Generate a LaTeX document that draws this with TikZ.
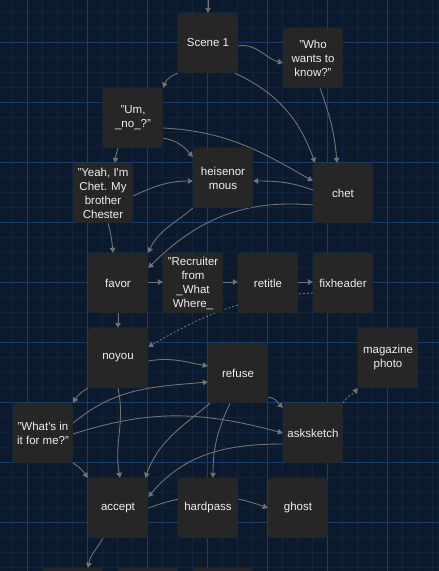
\documentclass[tikz,border=0pt]{standalone}
\usepackage{fontspec}
\setmainfont{Liberation Sans}
\usepackage{tikz}
\usetikzlibrary{arrows.meta}
\usetikzlibrary{calc}
\usepackage{xcolor}

\definecolor{bgblue}{HTML}{0B1A2D}
\definecolor{gridminor}{HTML}{11243D}
\definecolor{gridmajor}{HTML}{1B3B68}
\definecolor{boxgray}{HTML}{262626}
\definecolor{linkgray}{HTML}{727272}
\definecolor{textwhite}{HTML}{EFEFEF}

\pgfdeclarelayer{grid}
\pgfdeclarelayer{links}
\pgfsetlayers{grid,links,main}

\begin{document}
\begin{tikzpicture}[x=1pt, y=1pt,
    passage/.style={rectangle, rounded corners=3pt, fill=boxgray, minimum width=60pt, minimum height=60pt, inner sep=0pt, align=center, text=textwhite, font=\fontsize{11.5}{14}\selectfont},
    link/.style={draw=linkgray, line width=0.9pt, -{Triangle[length=5pt,width=5.5pt]}},
    dotlink/.style={link, dash pattern=on 2pt off 2pt}]
    \useasboundingbox (0,0) rectangle (439,-571);

    % Background grid
    \begin{pgfonlayer}{grid}
    \fill[bgblue] (0,0) rectangle (439,-571);
    \foreach \gx in {12,27,...,432} \draw[gridminor, line width=0.8pt] (\gx,0) -- (\gx,-571);
    \foreach \gy in {12,27,...,567} \draw[gridminor, line width=0.8pt] (0,-\gy) -- (439,-\gy);
    \foreach \gx in {27,87,...,387} \draw[gridmajor, line width=1pt] (\gx,0) -- (\gx,-571);
    \foreach \gy in {42,102,...,522} \draw[gridmajor, line width=1pt] (0,-\gy) -- (439,-\gy);
    \end{pgfonlayer}

    % Passages
    \node[passage] (scene) at (208,-43) {Scene 1};
    \node[passage] (who) at (313,-58) {"Who\\wants to\\know?"};
    \node[passage] (um) at (133,-118) {"Um,\\\_no\_?"};
    \node[passage] (yeah) at (103,-193) {"Yeah, I\textquotesingle m\\Chet. My\\brother\\Chester};
    \node[passage] (heis) at (223,-178) {heisenor\\mous};
    \node[passage] (chet) at (343,-193) {chet};

    \node[passage] (favor) at (118,-283) {favor};
    \node[passage] (recruiter) at (193,-283) {"Recruiter\\from\\\_What\\Where\_};
    \node[passage] (retitle) at (268,-283) {retitle};
    \node[passage] (fixheader) at (343,-283) {fixheader};

    \node[passage] (noyou) at (118,-358) {noyou};
    \node[passage] (refuse) at (238,-373) {refuse};
    \node[passage] (magazine) at (388,-358) {magazine\\photo};
    \node[passage] (whats) at (43,-433) {"What\textquotesingle s in\\it for me?"};
    \node[passage] (asksketch) at (313,-433) {asksketch};

    \node[passage] (accept) at (118,-508) {accept};
    \node[passage] (hardpass) at (208,-508) {hardpass};
    \node[passage] (ghost) at (298,-508) {ghost};

    % Cut off at the bottom
    \node[passage] (next1) at (73,-598) {};
    \node[passage] (next2) at (148,-598) {};
    \node[passage] (next3) at (223,-598) {};

    \coordinate (entry) at (208,4);

    % Links
    \begin{pgfonlayer}{links}
    \draw[link] (entry) -- (scene.north);
    \draw[link] ($(scene.east)+(0,-3)$) to[out=10, in=165] ($(who.west)+(0,-5)$);
    \draw[link] (scene.south west) to[out=200, in=70] (um.north east);
    \draw[link] ($(scene.south)+(27,0)$) to[out=-25, in=110] ($(chet.north)+(-28,0)$);
    \draw[link] ($(who.south)+(7,0)$) to[out=-70, in=95] ($(chet.north)+(-6,0)$);

    \draw[link] ($(um.east)+(0,-20)$) to[out=-10, in=130] ($(heis.west)+(0,21)$);
    \draw[link] ($(um.east)+(0,-10)$) to[out=-3, in=150] ($(chet.west)+(0,12)$);
    \draw[link] ($(um.south)+(-15,0)$) to[out=-110, in=85] ($(yeah.north)+(12,0)$);

    \draw[link] ($(yeah.east)+(0,-3)$) to[out=25, in=180] ($(heis.west)+(0,-3)$);
    \draw[link] ($(chet.west)+(0,3)$) to[out=160, in=0] ($(heis.east)+(0,-3)$);

    \draw[link] (heis.south west) to[out=-140, in=65] (favor.north east);
    \draw[link] ($(chet.west)+(0,-12)$) to[out=175, in=45] ($(favor.east)+(0,15)$);
    \draw[link] ($(yeah.south)+(5,0)$) to[out=-75, in=95] ($(favor.north)+(-5,0)$);

    \draw[link] ($(favor.east)+(0,1)$) -- ($(recruiter.west)+(0,1)$);
    \draw[link] ($(recruiter.east)+(0,1)$) -- ($(retitle.west)+(0,1)$);
    \draw[link] ($(retitle.east)+(0,1)$) -- ($(fixheader.west)+(0,1)$);
    \draw[dotlink] ($(fixheader.west)+(0,-10)$) to[out=183, in=30] ($(noyou.east)+(0,11)$);

    \draw[link] (favor.south) -- (noyou.north);
    \draw[link] ($(noyou.east)+(0,-3)$) to[out=10, in=170] ($(refuse.west)+(0,7)$);
    \draw[link] (noyou.south west) to[out=-150, in=60] (whats.north east);
    \draw[link] (noyou.south) to[out=-78, in=100] ($(accept.north)+(2,0)$);

    \draw[link] ($(whats.east)+(0,10)$) to[out=40, in=185] ($(refuse.west)+(0,-9)$);
    \draw[link] ($(whats.east)+(0,-1)$) to[out=18, in=165] (asksketch.west);
    \draw[link] (whats.south east) to[out=-30, in=125] (accept.north west);

    \draw[link] ($(refuse.south)+(-28,0)$) to[out=-140, in=70] ($(accept.north east)+(-3,0)$);
    \draw[link] ($(refuse.south)+(-8,0)$) to[out=-115, in=90] ($(hardpass.north)+(5,0)$);
    \draw[link] ($(refuse.east)+(0,-24)$) to[out=-5, in=135] ($(asksketch.north west)+(0,-5)$);

    \draw[link] ($(asksketch.west)+(0,-11)$) to[out=180, in=50] ($(accept.east)+(0,11)$);
    \draw[dotlink] (asksketch.north east) to[out=60, in=230] (magazine.south west);

    \draw[link] (accept.east) to[out=20, in=160] (ghost.west);
    \draw[link] ($(accept.south)+(-15,0)$) to[out=-120, in=80] ($(next1.north)+(15,0)$);
    \end{pgfonlayer}
\end{tikzpicture}
\end{document}
